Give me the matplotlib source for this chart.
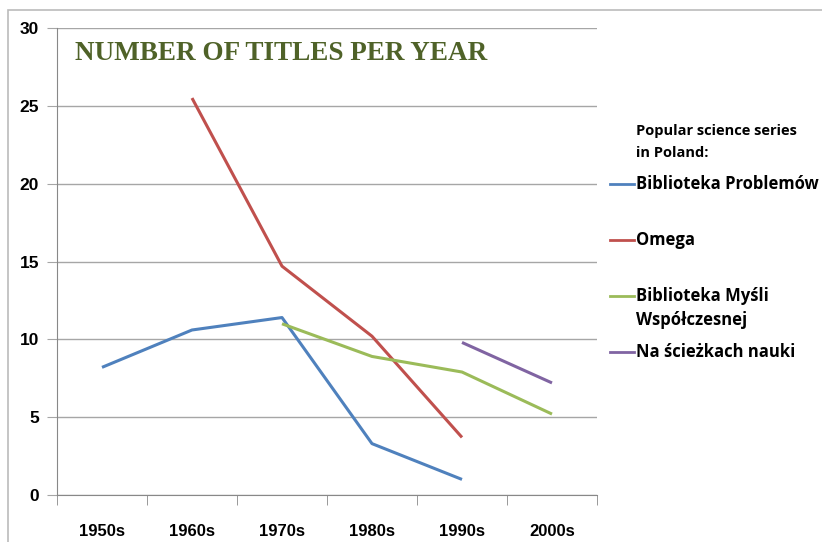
import matplotlib
matplotlib.use("Agg")
import matplotlib.pyplot as plt
from matplotlib.lines import Line2D
from matplotlib.patches import Rectangle
import numpy as np

categories = ["1950s", "1960s", "1970s", "1980s", "1990s", "2000s"]
biblioteka_problemow = [8.2, 10.6, 11.4, 3.3, 1.0, None]
omega = [None, 25.5, 14.7, 10.2, 3.7, None]
biblioteka_mysli = [None, None, 11.0, 8.9, 7.9, 5.2]
na_sciezkach = [None, None, None, None, 9.8, 7.2]
series_names = ["Biblioteka Problemów", "Omega", "Biblioteka Myśli\nWspółczesnej", "Na ścieżkach nauki"]
series_values = [biblioteka_problemow, omega, biblioteka_mysli, na_sciezkach]
colors = ["#4F81BD", "#C0504D", "#9BBB59", "#8064A2"]
yticks = [0, 5, 10, 15, 20, 25, 30]

narrow = ["Liberation Sans Narrow", "Liberation Sans", "DejaVu Sans"]

fig = plt.figure(figsize=(8.22, 5.42), dpi=100)
fig.patches.append(Rectangle((8/822, -0.1), 1.0, (542-10)/542 + 0.1, transform=fig.transFigure,
                             fill=False, edgecolor="#BBBBBB", linewidth=1.2))
ax = fig.add_axes([57/822, (542-495)/542, 540/822, 467/542])
x = np.arange(len(categories))
for vals, c in zip(series_values, colors):
    xs = [xi for xi, v in zip(x, vals) if v is not None]
    ys = [v for v in vals if v is not None]
    ax.plot(xs, ys, color=c, linewidth=2.2, solid_capstyle="butt")

ax.set_xlim(-0.5, len(categories) - 0.5)
ax.set_ylim(0, 30)
ax.set_yticks(yticks)
ax.set_yticklabels([str(t) for t in yticks], family=narrow, fontweight="bold", fontsize=12.5)
ax.yaxis.grid(True, color="#A6A6A6", linewidth=1)
ax.set_axisbelow(True)
ax.set_xticks(x)
ax.set_xticklabels(categories, family=narrow, fontweight="bold", fontsize=12)
ax.set_xticks(np.arange(-0.5, len(categories), 1.0), minor=True)
ax.tick_params(axis="x", which="major", length=0, pad=21)
ax.tick_params(axis="x", which="minor", length=7, color="#888888", direction="out")
ax.tick_params(axis="y", length=7, color="#A6A6A6", pad=6)
for s in ["top", "right"]:
    ax.spines[s].set_visible(False)
ax.spines["left"].set_color("#888888")
ax.spines["bottom"].set_color("#888888")

fig.text(75/822, 1 - 53/542, "NUMBER OF TITLES PER YEAR",
         family=["Liberation Serif", "DejaVu Serif"], fontweight="bold", fontsize=19.5,
         color="#4F6228", va="center", ha="left")

legend_font = ["Open Sans", "DejaVu Sans"]
fig.text(636/822, 1 - 131/542, "Popular science series", family=legend_font, fontweight="bold",
         fontsize=10.5, va="center", ha="left")
fig.text(636/822, 1 - 153/542, "in Poland:", family=legend_font, fontweight="bold",
         fontsize=10.5, va="center", ha="left")
legend_y = [184, 240, 296, 352]
for name, c, ly in zip(series_names, colors, legend_y):
    yy = 1 - ly/542
    fig.lines.append(Line2D([610/822, 634/822], [yy, yy], transform=fig.transFigure, color=c, linewidth=2))
    lines = name.split("\n")
    for i, part in enumerate(lines):
        fig.text(636/822, 1 - (ly + 24*i)/542, part, family=legend_font, fontweight="bold",
                 fontsize=12, va="center", ha="left")

fig.savefig("out.png", dpi=100)
